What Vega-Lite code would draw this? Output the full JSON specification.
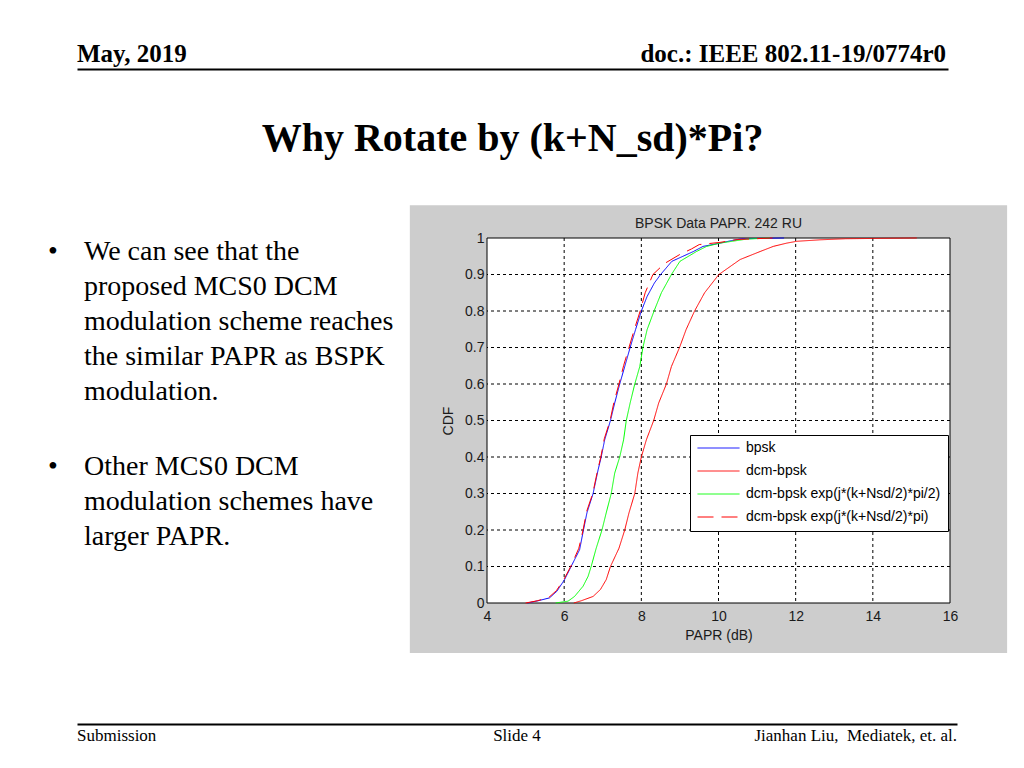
{
  "$schema": "https://vega.github.io/schema/vega-lite/v6.json",
  "background": "white",
  "padding": {"left": 48, "top": 42, "right": 5, "bottom": 5},
  "config": {
    "view": {"stroke": null},
    "font": "Liberation Sans",
    "axis": {"labelFont": "Liberation Sans", "labelFontSize": 14, "labelColor": "#1a1a1a", "titleFont": "Liberation Sans", "titleFontSize": 14, "titleFontWeight": "normal", "titleColor": "#1a1a1a", "domain": false, "ticks": false, "grid": false, "labelFlush": false}
  },
  "datasets": {
    "curves": [
      {"s": "bpsk", "x": 5.05, "cdf": 0}, {"s": "bpsk", "x": 5.32, "cdf": 0.006}, {"s": "bpsk", "x": 5.62, "cdf": 0.014}, {"s": "bpsk", "x": 5.81, "cdf": 0.032}, {"s": "bpsk", "x": 6.01, "cdf": 0.064}, {"s": "bpsk", "x": 6.18, "cdf": 0.1}, {"s": "bpsk", "x": 6.4, "cdf": 0.146}, {"s": "bpsk", "x": 6.5, "cdf": 0.2}, {"s": "bpsk", "x": 6.59, "cdf": 0.247}, {"s": "bpsk", "x": 6.75, "cdf": 0.3}, {"s": "bpsk", "x": 6.88, "cdf": 0.365}, {"s": "bpsk", "x": 6.96, "cdf": 0.4}, {"s": "bpsk", "x": 7.05, "cdf": 0.447}, {"s": "bpsk", "x": 7.2, "cdf": 0.5}, {"s": "bpsk", "x": 7.31, "cdf": 0.548}, {"s": "bpsk", "x": 7.44, "cdf": 0.6}, {"s": "bpsk", "x": 7.57, "cdf": 0.648}, {"s": "bpsk", "x": 7.71, "cdf": 0.7}, {"s": "bpsk", "x": 7.85, "cdf": 0.749}, {"s": "bpsk", "x": 8.0, "cdf": 0.8}, {"s": "bpsk", "x": 8.15, "cdf": 0.84}, {"s": "bpsk", "x": 8.34, "cdf": 0.877}, {"s": "bpsk", "x": 8.5, "cdf": 0.9}, {"s": "bpsk", "x": 8.79, "cdf": 0.936}, {"s": "bpsk", "x": 9.35, "cdf": 0.963}, {"s": "bpsk", "x": 9.6, "cdf": 0.977}, {"s": "bpsk", "x": 10.04, "cdf": 0.986}, {"s": "bpsk", "x": 10.34, "cdf": 0.993}, {"s": "bpsk", "x": 10.6, "cdf": 0.998}, {"s": "bpsk", "x": 11.7, "cdf": 1.0},
      {"s": "dcm-bpsk", "x": 6.25, "cdf": 0}, {"s": "dcm-bpsk", "x": 6.44, "cdf": 0.006}, {"s": "dcm-bpsk", "x": 6.75, "cdf": 0.018}, {"s": "dcm-bpsk", "x": 6.94, "cdf": 0.037}, {"s": "dcm-bpsk", "x": 7.09, "cdf": 0.064}, {"s": "dcm-bpsk", "x": 7.2, "cdf": 0.1}, {"s": "dcm-bpsk", "x": 7.42, "cdf": 0.15}, {"s": "dcm-bpsk", "x": 7.57, "cdf": 0.2}, {"s": "dcm-bpsk", "x": 7.68, "cdf": 0.247}, {"s": "dcm-bpsk", "x": 7.83, "cdf": 0.3}, {"s": "dcm-bpsk", "x": 7.91, "cdf": 0.356}, {"s": "dcm-bpsk", "x": 8.0, "cdf": 0.4}, {"s": "dcm-bpsk", "x": 8.13, "cdf": 0.447}, {"s": "dcm-bpsk", "x": 8.32, "cdf": 0.5}, {"s": "dcm-bpsk", "x": 8.45, "cdf": 0.548}, {"s": "dcm-bpsk", "x": 8.65, "cdf": 0.6}, {"s": "dcm-bpsk", "x": 8.78, "cdf": 0.648}, {"s": "dcm-bpsk", "x": 8.99, "cdf": 0.7}, {"s": "dcm-bpsk", "x": 9.16, "cdf": 0.749}, {"s": "dcm-bpsk", "x": 9.38, "cdf": 0.8}, {"s": "dcm-bpsk", "x": 9.64, "cdf": 0.85}, {"s": "dcm-bpsk", "x": 10.01, "cdf": 0.9}, {"s": "dcm-bpsk", "x": 10.56, "cdf": 0.941}, {"s": "dcm-bpsk", "x": 11.08, "cdf": 0.963}, {"s": "dcm-bpsk", "x": 11.42, "cdf": 0.977}, {"s": "dcm-bpsk", "x": 11.77, "cdf": 0.986}, {"s": "dcm-bpsk", "x": 12.03, "cdf": 0.991}, {"s": "dcm-bpsk", "x": 12.63, "cdf": 0.995}, {"s": "dcm-bpsk", "x": 13.3, "cdf": 0.998}, {"s": "dcm-bpsk", "x": 15.14, "cdf": 1.0},
      {"s": "dcm-bpsk exp(j*(k+Nsd/2)*pi/2)", "x": 5.78, "cdf": 0}, {"s": "dcm-bpsk exp(j*(k+Nsd/2)*pi/2)", "x": 6.1, "cdf": 0.005}, {"s": "dcm-bpsk exp(j*(k+Nsd/2)*pi/2)", "x": 6.27, "cdf": 0.018}, {"s": "dcm-bpsk exp(j*(k+Nsd/2)*pi/2)", "x": 6.49, "cdf": 0.046}, {"s": "dcm-bpsk exp(j*(k+Nsd/2)*pi/2)", "x": 6.62, "cdf": 0.073}, {"s": "dcm-bpsk exp(j*(k+Nsd/2)*pi/2)", "x": 6.7, "cdf": 0.1}, {"s": "dcm-bpsk exp(j*(k+Nsd/2)*pi/2)", "x": 6.83, "cdf": 0.15}, {"s": "dcm-bpsk exp(j*(k+Nsd/2)*pi/2)", "x": 6.98, "cdf": 0.2}, {"s": "dcm-bpsk exp(j*(k+Nsd/2)*pi/2)", "x": 7.09, "cdf": 0.247}, {"s": "dcm-bpsk exp(j*(k+Nsd/2)*pi/2)", "x": 7.22, "cdf": 0.3}, {"s": "dcm-bpsk exp(j*(k+Nsd/2)*pi/2)", "x": 7.31, "cdf": 0.356}, {"s": "dcm-bpsk exp(j*(k+Nsd/2)*pi/2)", "x": 7.44, "cdf": 0.4}, {"s": "dcm-bpsk exp(j*(k+Nsd/2)*pi/2)", "x": 7.54, "cdf": 0.447}, {"s": "dcm-bpsk exp(j*(k+Nsd/2)*pi/2)", "x": 7.61, "cdf": 0.5}, {"s": "dcm-bpsk exp(j*(k+Nsd/2)*pi/2)", "x": 7.71, "cdf": 0.548}, {"s": "dcm-bpsk exp(j*(k+Nsd/2)*pi/2)", "x": 7.83, "cdf": 0.6}, {"s": "dcm-bpsk exp(j*(k+Nsd/2)*pi/2)", "x": 7.96, "cdf": 0.648}, {"s": "dcm-bpsk exp(j*(k+Nsd/2)*pi/2)", "x": 8.04, "cdf": 0.7}, {"s": "dcm-bpsk exp(j*(k+Nsd/2)*pi/2)", "x": 8.15, "cdf": 0.749}, {"s": "dcm-bpsk exp(j*(k+Nsd/2)*pi/2)", "x": 8.33, "cdf": 0.8}, {"s": "dcm-bpsk exp(j*(k+Nsd/2)*pi/2)", "x": 8.52, "cdf": 0.85}, {"s": "dcm-bpsk exp(j*(k+Nsd/2)*pi/2)", "x": 8.78, "cdf": 0.9}, {"s": "dcm-bpsk exp(j*(k+Nsd/2)*pi/2)", "x": 9.0, "cdf": 0.936}, {"s": "dcm-bpsk exp(j*(k+Nsd/2)*pi/2)", "x": 9.43, "cdf": 0.963}, {"s": "dcm-bpsk exp(j*(k+Nsd/2)*pi/2)", "x": 9.69, "cdf": 0.977}, {"s": "dcm-bpsk exp(j*(k+Nsd/2)*pi/2)", "x": 10.04, "cdf": 0.986}, {"s": "dcm-bpsk exp(j*(k+Nsd/2)*pi/2)", "x": 10.73, "cdf": 0.997}, {"s": "dcm-bpsk exp(j*(k+Nsd/2)*pi/2)", "x": 11.33, "cdf": 1.0},
      {"s": "dcm-bpsk exp(j*(k+Nsd/2)*pi)", "x": 5.0, "cdf": 0}, {"s": "dcm-bpsk exp(j*(k+Nsd/2)*pi)", "x": 5.3, "cdf": 0.006}, {"s": "dcm-bpsk exp(j*(k+Nsd/2)*pi)", "x": 5.6, "cdf": 0.015}, {"s": "dcm-bpsk exp(j*(k+Nsd/2)*pi)", "x": 5.8, "cdf": 0.034}, {"s": "dcm-bpsk exp(j*(k+Nsd/2)*pi)", "x": 6.0, "cdf": 0.066}, {"s": "dcm-bpsk exp(j*(k+Nsd/2)*pi)", "x": 6.17, "cdf": 0.1}, {"s": "dcm-bpsk exp(j*(k+Nsd/2)*pi)", "x": 6.38, "cdf": 0.15}, {"s": "dcm-bpsk exp(j*(k+Nsd/2)*pi)", "x": 6.49, "cdf": 0.2}, {"s": "dcm-bpsk exp(j*(k+Nsd/2)*pi)", "x": 6.58, "cdf": 0.25}, {"s": "dcm-bpsk exp(j*(k+Nsd/2)*pi)", "x": 6.74, "cdf": 0.3}, {"s": "dcm-bpsk exp(j*(k+Nsd/2)*pi)", "x": 6.87, "cdf": 0.365}, {"s": "dcm-bpsk exp(j*(k+Nsd/2)*pi)", "x": 6.95, "cdf": 0.4}, {"s": "dcm-bpsk exp(j*(k+Nsd/2)*pi)", "x": 7.04, "cdf": 0.45}, {"s": "dcm-bpsk exp(j*(k+Nsd/2)*pi)", "x": 7.19, "cdf": 0.5}, {"s": "dcm-bpsk exp(j*(k+Nsd/2)*pi)", "x": 7.29, "cdf": 0.55}, {"s": "dcm-bpsk exp(j*(k+Nsd/2)*pi)", "x": 7.42, "cdf": 0.6}, {"s": "dcm-bpsk exp(j*(k+Nsd/2)*pi)", "x": 7.54, "cdf": 0.65}, {"s": "dcm-bpsk exp(j*(k+Nsd/2)*pi)", "x": 7.68, "cdf": 0.7}, {"s": "dcm-bpsk exp(j*(k+Nsd/2)*pi)", "x": 7.82, "cdf": 0.75}, {"s": "dcm-bpsk exp(j*(k+Nsd/2)*pi)", "x": 7.97, "cdf": 0.8}, {"s": "dcm-bpsk exp(j*(k+Nsd/2)*pi)", "x": 8.1, "cdf": 0.85}, {"s": "dcm-bpsk exp(j*(k+Nsd/2)*pi)", "x": 8.3, "cdf": 0.9}, {"s": "dcm-bpsk exp(j*(k+Nsd/2)*pi)", "x": 8.6, "cdf": 0.93}, {"s": "dcm-bpsk exp(j*(k+Nsd/2)*pi)", "x": 9.0, "cdf": 0.955}, {"s": "dcm-bpsk exp(j*(k+Nsd/2)*pi)", "x": 9.3, "cdf": 0.97}, {"s": "dcm-bpsk exp(j*(k+Nsd/2)*pi)", "x": 9.5, "cdf": 0.982}, {"s": "dcm-bpsk exp(j*(k+Nsd/2)*pi)", "x": 10.04, "cdf": 0.988}, {"s": "dcm-bpsk exp(j*(k+Nsd/2)*pi)", "x": 10.5, "cdf": 0.996}, {"s": "dcm-bpsk exp(j*(k+Nsd/2)*pi)", "x": 11.4, "cdf": 1.0}
    ],
    "gridx": [{"x": 6}, {"x": 8}, {"x": 10}, {"x": 12}, {"x": 14}],
    "gridy": [{"cdf": 0.1}, {"cdf": 0.2}, {"cdf": 0.3}, {"cdf": 0.4}, {"cdf": 0.5}, {"cdf": 0.6}, {"cdf": 0.7}, {"cdf": 0.8}, {"cdf": 0.9}],
    "one": [{}]
  },
  "spacing": 70,
  "vconcat": [
    {
      "spacing": 50,
      "vconcat": [
        {
          "width": 871,
          "height": 10,
          "layer": [
            {
              "data": {"values": [{"t": "May, 2019"}]},
              "mark": {"type": "text", "align": "left", "baseline": "alphabetic", "font": "Liberation Serif", "fontSize": 25, "fontWeight": "bold", "color": "black", "dy": -7},
              "encoding": {
                "text": {"field": "t"},
                "x": {"datum": 0, "type": "quantitative", "scale": {"domain": [0, 1], "nice": false}, "axis": {"orient": "bottom", "domain": true, "domainColor": "black", "domainWidth": 2, "ticks": false, "labels": false, "grid": false, "title": null}},
                "y": {"datum": 0, "type": "quantitative", "scale": {"domain": [0, 1]}, "axis": null}
              }
            },
            {
              "data": {"values": [{"t": "doc.: IEEE 802.11-19/0774r0"}]},
              "mark": {"type": "text", "align": "right", "baseline": "alphabetic", "font": "Liberation Serif", "fontSize": 25, "fontWeight": "bold", "color": "black", "dy": -7, "dx": -2},
              "encoding": {
                "text": {"field": "t"},
                "x": {"datum": 1, "type": "quantitative", "scale": {"domain": [0, 1], "nice": false}, "axis": {"orient": "bottom", "domain": true, "domainColor": "black", "domainWidth": 2, "ticks": false, "labels": false, "grid": false, "title": null}},
                "y": {"datum": 0, "type": "quantitative", "scale": {"domain": [0, 1]}, "axis": null}
              }
            }
          ]
        },
        {
          "title": {"text": "Why Rotate by (k+N_sd)*Pi?", "font": "Liberation Serif", "fontSize": 40, "fontWeight": "bold", "color": "black", "anchor": "middle", "baseline": "alphabetic", "offset": 14, "dx": -15},
          "spacing": 10,
          "hconcat": [
            {
              "width": 322,
              "height": 215,
              "data": {"values": [
                {"para": "a", "lines": ["We can see that the", "proposed MCS0 DCM", "modulation scheme reaches", "the similar PAPR as BSPK", "modulation."]},
                {"para": "b", "lines": ["Other MCS0 DCM", "modulation schemes have", "larger PAPR."]}
              ]},
              "encoding": {
                "x": {"datum": 0, "type": "quantitative", "scale": {"domain": [0, 1], "nice": false}, "axis": null},
                "y": {"field": "para", "type": "ordinal", "scale": {"type": "point", "padding": 0}, "axis": null}
              },
              "layer": [
                {"mark": {"type": "text", "text": "•", "align": "left", "baseline": "top", "font": "Liberation Serif", "fontSize": 28, "dx": -29, "color": "black"}},
                {"mark": {"type": "text", "align": "left", "baseline": "top", "font": "Liberation Serif", "fontSize": 28, "lineHeight": 35, "dx": 7, "color": "black"}, "encoding": {"text": {"field": "lines"}}}
              ]
            },
            {
              "width": 463,
              "height": 365,
              "layer": [
                {
                  "data": {"name": "one"},
                  "mark": {"type": "rect", "fill": "#cdcdcd", "clip": false},
                  "encoding": {
                    "x": {"datum": 2.0, "type": "quantitative", "scale": {"domain": [4, 16], "nice": false, "zero": false}, "axis": {"values": [4, 6, 8, 10, 12, 14, 16], "labelFontSize": 14, "labelColor": "#1a1a1a", "labelPadding": 6, "title": "PAPR (dB)", "titleFontSize": 14, "titleFontWeight": "normal", "titleColor": "#1a1a1a", "titlePadding": 5, "zindex": 1}},
                    "x2": {"datum": 17.48},
                    "y": {"datum": -0.137, "type": "quantitative", "scale": {"domain": [0, 1], "nice": false, "zero": false}, "axis": {"values": [0, 0.1, 0.2, 0.3, 0.4, 0.5, 0.6, 0.7, 0.8, 0.9, 1], "format": "~g", "labelFontSize": 14, "labelColor": "#1a1a1a", "labelPadding": 3, "title": "CDF", "titleFontSize": 14, "titleFontWeight": "normal", "titleColor": "#1a1a1a", "titlePadding": 9, "zindex": 1}},
                    "y2": {"datum": 1.09}
                  }
                },
                {
                  "data": {"name": "one"},
                  "mark": {"type": "rect", "fill": "white", "stroke": "black", "strokeWidth": 1},
                  "encoding": {
                    "x": {"datum": 4, "type": "quantitative", "scale": {"domain": [4, 16], "nice": false, "zero": false}, "axis": {"values": [4, 6, 8, 10, 12, 14, 16], "labelFontSize": 14, "labelColor": "#1a1a1a", "labelPadding": 6, "title": "PAPR (dB)", "titleFontSize": 14, "titleFontWeight": "normal", "titleColor": "#1a1a1a", "titlePadding": 5, "zindex": 1}},
                    "x2": {"datum": 16},
                    "y": {"datum": 0, "type": "quantitative", "scale": {"domain": [0, 1], "nice": false, "zero": false}, "axis": {"values": [0, 0.1, 0.2, 0.3, 0.4, 0.5, 0.6, 0.7, 0.8, 0.9, 1], "format": "~g", "labelFontSize": 14, "labelColor": "#1a1a1a", "labelPadding": 3, "title": "CDF", "titleFontSize": 14, "titleFontWeight": "normal", "titleColor": "#1a1a1a", "titlePadding": 9, "zindex": 1}},
                    "y2": {"datum": 1}
                  }
                },
                {
                  "data": {"name": "gridx"},
                  "mark": {"type": "rule", "stroke": "black", "strokeWidth": 1, "strokeDash": [3, 3]},
                  "encoding": {
                    "x": {"field": "x", "type": "quantitative", "scale": {"domain": [4, 16], "nice": false, "zero": false}, "axis": {"values": [4, 6, 8, 10, 12, 14, 16], "labelFontSize": 14, "labelColor": "#1a1a1a", "labelPadding": 6, "title": "PAPR (dB)", "titleFontSize": 14, "titleFontWeight": "normal", "titleColor": "#1a1a1a", "titlePadding": 5, "zindex": 1}}
                  }
                },
                {
                  "data": {"name": "gridy"},
                  "mark": {"type": "rule", "stroke": "black", "strokeWidth": 1, "strokeDash": [3, 3]},
                  "encoding": {
                    "y": {"field": "cdf", "type": "quantitative", "scale": {"domain": [0, 1], "nice": false, "zero": false}, "axis": {"values": [0, 0.1, 0.2, 0.3, 0.4, 0.5, 0.6, 0.7, 0.8, 0.9, 1], "format": "~g", "labelFontSize": 14, "labelColor": "#1a1a1a", "labelPadding": 3, "title": "CDF", "titleFontSize": 14, "titleFontWeight": "normal", "titleColor": "#1a1a1a", "titlePadding": 9, "zindex": 1}}
                  }
                },
                {
                  "data": {"name": "curves"},
                  "mark": {"type": "line", "strokeWidth": 1},
                  "encoding": {
                    "x": {"field": "x", "type": "quantitative", "scale": {"domain": [4, 16], "nice": false, "zero": false}, "axis": {"values": [4, 6, 8, 10, 12, 14, 16], "labelFontSize": 14, "labelColor": "#1a1a1a", "labelPadding": 6, "title": "PAPR (dB)", "titleFontSize": 14, "titleFontWeight": "normal", "titleColor": "#1a1a1a", "titlePadding": 5, "zindex": 1}},
                    "y": {"field": "cdf", "type": "quantitative", "scale": {"domain": [0, 1], "nice": false, "zero": false}, "axis": {"values": [0, 0.1, 0.2, 0.3, 0.4, 0.5, 0.6, 0.7, 0.8, 0.9, 1], "format": "~g", "labelFontSize": 14, "labelColor": "#1a1a1a", "labelPadding": 3, "title": "CDF", "titleFontSize": 14, "titleFontWeight": "normal", "titleColor": "#1a1a1a", "titlePadding": 9, "zindex": 1}},
                    "color": {"field": "s", "type": "nominal",
                      "scale": {"domain": ["bpsk", "dcm-bpsk", "dcm-bpsk exp(j*(k+Nsd/2)*pi/2)", "dcm-bpsk exp(j*(k+Nsd/2)*pi)"], "range": ["#0000ff", "#ff0000", "#00ff00", "#ff0000"]},
                      "legend": {"title": null, "orient": "none", "legendX": 613, "legendY": 376, "strokeColor": "black", "fillColor": "white", "padding": 7, "cornerRadius": 0, "symbolType": "stroke", "symbolSize": 1764, "symbolStrokeWidth": 1, "labelFont": "Liberation Sans", "labelFontSize": 14, "labelColor": "black", "labelOffset": 6, "labelLimit": 400, "clipHeight": 12, "rowPadding": 9}},
                    "strokeDash": {"field": "s", "type": "nominal",
                      "scale": {"domain": ["bpsk", "dcm-bpsk", "dcm-bpsk exp(j*(k+Nsd/2)*pi/2)", "dcm-bpsk exp(j*(k+Nsd/2)*pi)"], "range": [[1, 0], [1, 0], [1, 0], [16, 8]]},
                      "legend": {"title": null, "orient": "none", "legendX": 613, "legendY": 376, "strokeColor": "black", "fillColor": "white", "padding": 7, "cornerRadius": 0, "symbolType": "stroke", "symbolSize": 1764, "symbolStrokeWidth": 1, "labelFont": "Liberation Sans", "labelFontSize": 14, "labelColor": "black", "labelOffset": 6, "labelLimit": 400, "clipHeight": 12, "rowPadding": 9}}
                  }
                },
                {
                  "data": {"values": [{"t": "BPSK Data PAPR. 242 RU"}]},
                  "mark": {"type": "text", "align": "center", "baseline": "alphabetic", "font": "Liberation Sans", "fontSize": 14, "color": "#222222"},
                  "encoding": {
                    "text": {"field": "t"},
                    "x": {"datum": 10, "type": "quantitative", "scale": {"domain": [4, 16], "nice": false, "zero": false}, "axis": {"values": [4, 6, 8, 10, 12, 14, 16], "labelFontSize": 14, "labelColor": "#1a1a1a", "labelPadding": 6, "title": "PAPR (dB)", "titleFontSize": 14, "titleFontWeight": "normal", "titleColor": "#1a1a1a", "titlePadding": 5, "zindex": 1}},
                    "y": {"datum": 1.028, "type": "quantitative", "scale": {"domain": [0, 1], "nice": false, "zero": false}, "axis": {"values": [0, 0.1, 0.2, 0.3, 0.4, 0.5, 0.6, 0.7, 0.8, 0.9, 1], "format": "~g", "labelFontSize": 14, "labelColor": "#1a1a1a", "labelPadding": 3, "title": "CDF", "titleFontSize": 14, "titleFontWeight": "normal", "titleColor": "#1a1a1a", "titlePadding": 9, "zindex": 1}}
                  }
                }
              ]
            }
          ]
        }
      ]
    },
    {
      "width": 880,
      "height": 17,
      "layer": [
        {
          "data": {"values": [{"t": "Submission"}]},
          "mark": {"type": "text", "align": "left", "baseline": "alphabetic", "font": "Liberation Serif", "fontSize": 17, "color": "black"},
          "encoding": {
            "text": {"field": "t"},
            "x": {"datum": 0, "type": "quantitative", "scale": {"domain": [0, 1], "nice": false}, "axis": {"orient": "top", "domain": true, "domainColor": "black", "domainWidth": 2, "ticks": false, "labels": false, "grid": false, "title": null}},
            "y": {"datum": 0, "type": "quantitative", "scale": {"domain": [0, 1]}, "axis": null}
          }
        },
        {
          "data": {"values": [{"t": "Slide 4"}]},
          "mark": {"type": "text", "align": "center", "baseline": "alphabetic", "font": "Liberation Serif", "fontSize": 17, "color": "black"},
          "encoding": {
            "text": {"field": "t"},
            "x": {"datum": 0.5, "type": "quantitative", "scale": {"domain": [0, 1], "nice": false}, "axis": {"orient": "top", "domain": true, "domainColor": "black", "domainWidth": 2, "ticks": false, "labels": false, "grid": false, "title": null}},
            "y": {"datum": 0, "type": "quantitative", "scale": {"domain": [0, 1]}, "axis": null}
          }
        },
        {
          "data": {"values": [{"t": "Jianhan Liu,\u00a0 Mediatek, et. al."}]},
          "mark": {"type": "text", "align": "right", "baseline": "alphabetic", "font": "Liberation Serif", "fontSize": 17, "color": "black"},
          "encoding": {
            "text": {"field": "t"},
            "x": {"datum": 1, "type": "quantitative", "scale": {"domain": [0, 1], "nice": false}, "axis": {"orient": "top", "domain": true, "domainColor": "black", "domainWidth": 2, "ticks": false, "labels": false, "grid": false, "title": null}},
            "y": {"datum": 0, "type": "quantitative", "scale": {"domain": [0, 1]}, "axis": null}
          }
        }
      ]
    }
  ]
}
